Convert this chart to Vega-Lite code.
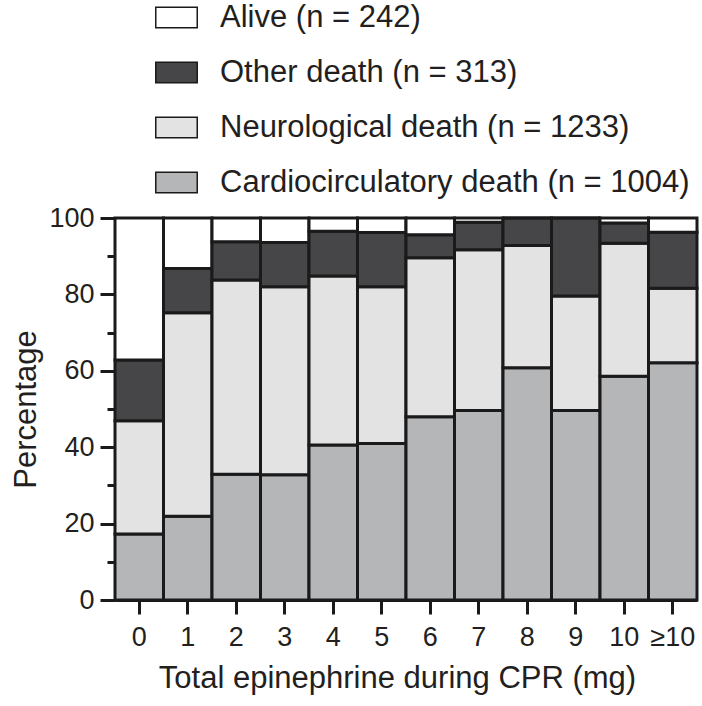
{
  "$schema": "https://vega.github.io/schema/vega-lite/v6.json",
  "width": 582,
  "height": 382,
  "autosize": {"type": "none"},
  "padding": {"left": 115, "top": 218, "right": 5, "bottom": 106},
  "background": "white",
  "config": {
    "view": {"stroke": null},
    "font": "Liberation Sans",
    "axis": {"titleFontWeight": "normal", "labelColor": "#231f20", "titleColor": "#231f20", "domainColor": "#1a1a1a", "tickColor": "#1a1a1a", "grid": false}
  },
  "data": {
    "values": [
      {"dose": "0", "cause": "Cardiocirculatory death (n = 1004)", "k": 1, "pct": 17.3},
      {"dose": "0", "cause": "Neurological death (n = 1233)", "k": 2, "pct": 29.6},
      {"dose": "0", "cause": "Other death (n = 313)", "k": 3, "pct": 15.9},
      {"dose": "0", "cause": "Alive (n = 242)", "k": 4, "pct": 37.2},
      {"dose": "1", "cause": "Cardiocirculatory death (n = 1004)", "k": 1, "pct": 21.9},
      {"dose": "1", "cause": "Neurological death (n = 1233)", "k": 2, "pct": 53.3},
      {"dose": "1", "cause": "Other death (n = 313)", "k": 3, "pct": 11.6},
      {"dose": "1", "cause": "Alive (n = 242)", "k": 4, "pct": 13.2},
      {"dose": "2", "cause": "Cardiocirculatory death (n = 1004)", "k": 1, "pct": 32.9},
      {"dose": "2", "cause": "Neurological death (n = 1233)", "k": 2, "pct": 50.9},
      {"dose": "2", "cause": "Other death (n = 313)", "k": 3, "pct": 10.0},
      {"dose": "2", "cause": "Alive (n = 242)", "k": 4, "pct": 6.2},
      {"dose": "3", "cause": "Cardiocirculatory death (n = 1004)", "k": 1, "pct": 32.8},
      {"dose": "3", "cause": "Neurological death (n = 1233)", "k": 2, "pct": 49.2},
      {"dose": "3", "cause": "Other death (n = 313)", "k": 3, "pct": 11.6},
      {"dose": "3", "cause": "Alive (n = 242)", "k": 4, "pct": 6.4},
      {"dose": "4", "cause": "Cardiocirculatory death (n = 1004)", "k": 1, "pct": 40.6},
      {"dose": "4", "cause": "Neurological death (n = 1233)", "k": 2, "pct": 44.2},
      {"dose": "4", "cause": "Other death (n = 313)", "k": 3, "pct": 11.7},
      {"dose": "4", "cause": "Alive (n = 242)", "k": 4, "pct": 3.5},
      {"dose": "5", "cause": "Cardiocirculatory death (n = 1004)", "k": 1, "pct": 41.0},
      {"dose": "5", "cause": "Neurological death (n = 1233)", "k": 2, "pct": 41.0},
      {"dose": "5", "cause": "Other death (n = 313)", "k": 3, "pct": 14.2},
      {"dose": "5", "cause": "Alive (n = 242)", "k": 4, "pct": 3.8},
      {"dose": "6", "cause": "Cardiocirculatory death (n = 1004)", "k": 1, "pct": 48.0},
      {"dose": "6", "cause": "Neurological death (n = 1233)", "k": 2, "pct": 41.6},
      {"dose": "6", "cause": "Other death (n = 313)", "k": 3, "pct": 6.0},
      {"dose": "6", "cause": "Alive (n = 242)", "k": 4, "pct": 4.4},
      {"dose": "7", "cause": "Cardiocirculatory death (n = 1004)", "k": 1, "pct": 49.6},
      {"dose": "7", "cause": "Neurological death (n = 1233)", "k": 2, "pct": 42.1},
      {"dose": "7", "cause": "Other death (n = 313)", "k": 3, "pct": 7.2},
      {"dose": "7", "cause": "Alive (n = 242)", "k": 4, "pct": 1.1},
      {"dose": "8", "cause": "Cardiocirculatory death (n = 1004)", "k": 1, "pct": 60.8},
      {"dose": "8", "cause": "Neurological death (n = 1233)", "k": 2, "pct": 32.0},
      {"dose": "8", "cause": "Other death (n = 313)", "k": 3, "pct": 7.2},
      {"dose": "8", "cause": "Alive (n = 242)", "k": 4, "pct": 0},
      {"dose": "9", "cause": "Cardiocirculatory death (n = 1004)", "k": 1, "pct": 49.6},
      {"dose": "9", "cause": "Neurological death (n = 1233)", "k": 2, "pct": 30.0},
      {"dose": "9", "cause": "Other death (n = 313)", "k": 3, "pct": 20.4},
      {"dose": "9", "cause": "Alive (n = 242)", "k": 4, "pct": 0},
      {"dose": "10", "cause": "Cardiocirculatory death (n = 1004)", "k": 1, "pct": 58.6},
      {"dose": "10", "cause": "Neurological death (n = 1233)", "k": 2, "pct": 34.8},
      {"dose": "10", "cause": "Other death (n = 313)", "k": 3, "pct": 5.3},
      {"dose": "10", "cause": "Alive (n = 242)", "k": 4, "pct": 1.3},
      {"dose": "≥10", "cause": "Cardiocirculatory death (n = 1004)", "k": 1, "pct": 62.1},
      {"dose": "≥10", "cause": "Neurological death (n = 1233)", "k": 2, "pct": 19.5},
      {"dose": "≥10", "cause": "Other death (n = 313)", "k": 3, "pct": 14.7},
      {"dose": "≥10", "cause": "Alive (n = 242)", "k": 4, "pct": 3.7}
    ]
  },
  "mark": {"type": "bar", "stroke": "#1a1a1a", "strokeWidth": 3},
  "encoding": {
    "x": {
      "field": "dose",
      "type": "nominal",
      "sort": ["0", "1", "2", "3", "4", "5", "6", "7", "8", "9", "10", "≥10"],
      "scale": {"paddingInner": 0, "paddingOuter": 0},
      "axis": {
        "labelAngle": 0,
        "domainWidth": 3,
        "tickSize": 14,
        "tickWidth": 3,
        "labelFontSize": 27,
        "labelPadding": 10,
        "title": "Total epinephrine during CPR (mg)",
        "titleFontSize": 31,
        "titlePadding": 13,
        "titleX": 282
      }
    },
    "y": {
      "field": "pct",
      "type": "quantitative",
      "stack": "zero",
      "scale": {"domain": [0, 100]},
      "axis": {
        "values": [0, 10, 20, 30, 40, 50, 60, 70, 80, 90, 100],
        "labelExpr": "datum.value % 20 === 0 ? datum.label : ''",
        "tickSize": {"condition": {"test": "datum.value % 20 === 0", "value": 15}, "value": 8},
        "tickWidth": 3,
        "domainWidth": 3,
        "labelFontSize": 27,
        "labelPadding": 6,
        "title": "Percentage",
        "titleFontSize": 31,
        "titlePadding": 6
      }
    },
    "color": {
      "field": "cause",
      "type": "nominal",
      "scale": {
        "domain": ["Alive (n = 242)", "Other death (n = 313)", "Neurological death (n = 1233)", "Cardiocirculatory death (n = 1004)"],
        "range": ["#ffffff", "#464648", "#e3e3e3", "#b5b6b8"]
      },
      "legend": {
        "orient": "none",
        "legendX": 40,
        "legendY": -222,
        "title": null,
        "padding": 0,
        "symbolType": "M-1,-0.5L1,-0.5L1,0.5L-1,0.5Z",
        "symbolSize": 1720,
        "symbolStrokeColor": "#1a1a1a",
        "symbolStrokeWidth": 1.5,
        "symbolOpacity": 1,
        "labelFontSize": 31,
        "labelColor": "#231f20",
        "labelOffset": 22,
        "labelLimit": 600,
        "rowPadding": 18
      }
    },
    "order": {"field": "k", "type": "quantitative"}
  }
}
